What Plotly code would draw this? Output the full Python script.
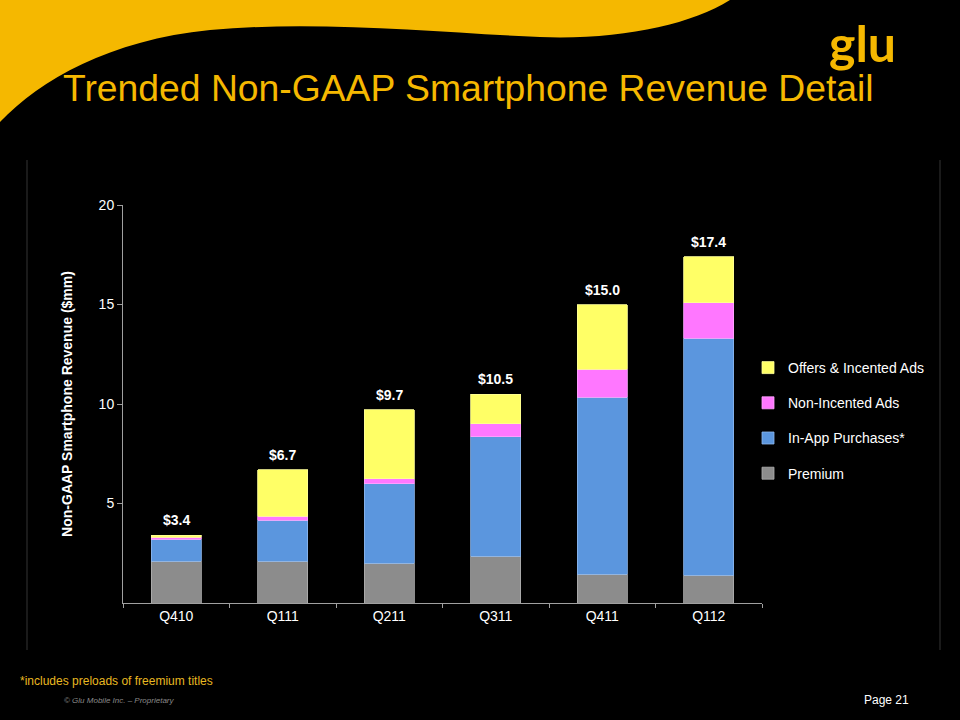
import plotly.graph_objects as go

categories = ["Q410", "Q111", "Q211", "Q311", "Q411", "Q112"]
premium = [2.1, 2.1, 2.0, 2.35, 1.45, 1.4]
in_app = [1.1, 2.05, 4.0, 6.0, 8.9, 11.9]
non_incented = [0.1, 0.2, 0.25, 0.65, 1.4, 1.8]
offers = [0.1, 2.35, 3.45, 1.5, 3.25, 2.3]
totals = [3.4, 6.7, 9.7, 10.5, 15.0, 17.4]
total_labels = ["$3.4", "$6.7", "$9.7", "$10.5", "$15.0", "$17.4"]
y_ticks = [5, 10, 15, 20]

FONT = "Liberation Sans, Arial, sans-serif"
YELLOW = "#F5B800"

# plot area in pixels
L, R, T, B = 123, 762, 205, 603
W, H = 960, 720


def px(x):
    return (x - L) / (R - L)


def py(y):
    return (B - y) / (B - T)


fig = go.Figure()
series = [
    ("Premium", premium, "#8C8C8C", "#B0B0B0", 4),
    ("In-App Purchases*", in_app, "#5B96DE", "#8DB8EE", 3),
    ("Non-Incented Ads", non_incented, "#FF77FF", "#FFA6FF", 2),
    ("Offers & Incented Ads", offers, "#FFFF66", "#FFFF99", 1),
]
for name, vals, col, lc, rank in series:
    fig.add_trace(go.Bar(
        x=categories, y=vals, name=name, legendgroup=name, legendrank=rank,
        marker=dict(color=col, line=dict(color=lc, width=0.8)),
        width=0.47,
    ))

for c, t, lab in zip(categories, totals, total_labels):
    fig.add_annotation(x=c, y=t, text="<b>" + lab + "</b>", showarrow=False,
                       yanchor="bottom", yshift=5,
                       font=dict(family=FONT, size=14, color="white"))


def P(x, y):
    return f"{px(x):.4f},{py(y):.4f}"


# yellow swoosh at top
path = ("M " + P(0, 0) + " L " + P(730, 0) +
        " C " + P(690, 25) + " " + P(620, 40) + " " + P(540, 37) +
        " C " + P(440, 33) + " " + P(320, 20) + " " + P(210, 30) +
        " C " + P(110, 40) + " " + P(40, 80) + " " + P(0, 122) + " Z")
fig.add_shape(type="path", path=path, xref="paper", yref="paper",
              fillcolor=YELLOW, line=dict(width=0), layer="below")

# faint panel edges
for xx in (27, 940):
    fig.add_shape(type="line", xref="paper", yref="paper",
                  x0=px(xx), x1=px(xx), y0=py(160), y1=py(650),
                  line=dict(color="#1A1A1A", width=2), layer="below")

# title and texts
fig.add_annotation(xref="paper", yref="paper", x=px(61), y=py(88),
                   xanchor="left", yanchor="middle", showarrow=False,
                   text="Trended Non-GAAP Smartphone Revenue Detail",
                   font=dict(family=FONT, size=37.3, color=YELLOW))
fig.add_annotation(xref="paper", yref="paper", x=px(862), y=py(43),
                   xanchor="center", yanchor="middle", showarrow=False,
                   text="<b>glu</b>",
                   font=dict(family="Lato, sans-serif", size=50, color=YELLOW))
fig.add_annotation(xref="paper", yref="paper", x=px(18), y=py(681),
                   xanchor="left", yanchor="middle", showarrow=False,
                   text="*includes preloads of freemium titles",
                   font=dict(family=FONT, size=12, color="#E8B820"))
fig.add_annotation(xref="paper", yref="paper", x=px(62), y=py(700),
                   xanchor="left", yanchor="middle", showarrow=False,
                   text="<i>© Glu Mobile Inc. – Proprietary</i>",
                   font=dict(family=FONT, size=8, color="#8A8A8A"))
fig.add_annotation(xref="paper", yref="paper", x=px(862), y=py(700),
                   xanchor="left", yanchor="middle", showarrow=False,
                   text="Page 21",
                   font=dict(family=FONT, size=12, color="white"))

fig.update_layout(
    width=W, height=H,
    margin=dict(l=L, r=W - R, t=T, b=H - B, pad=0, autoexpand=False),
    paper_bgcolor="black", plot_bgcolor="black",
    barmode="stack", bargap=0.53,
    font=dict(family=FONT, size=14, color="white"),
    showlegend=True,
    legend=dict(x=px(748), y=py(352), xanchor="left", yanchor="top",
                traceorder="grouped", tracegroupgap=14,
                font=dict(family=FONT, size=14, color="white"),
                bgcolor="rgba(0,0,0,0)", itemwidth=30),
    xaxis=dict(showline=True, linecolor="#A0A0A0", linewidth=1,
               ticks="outside", tickson="boundaries", ticklen=4,
               tickcolor="#A0A0A0", showgrid=False,
               tickfont=dict(family=FONT, size=14, color="white")),
    yaxis=dict(range=[0, 20], tickvals=y_ticks, showline=True,
               linecolor="#A0A0A0", linewidth=1, ticks="outside", ticklen=5,
               tickcolor="#A0A0A0", showgrid=False, zeroline=False,
               tickfont=dict(family=FONT, size=14, color="white"),
               title=dict(text="<b>Non-GAAP Smartphone Revenue ($mm)</b>",
                          font=dict(family=FONT, size=14, color="white"),
                          standoff=22)),
)

fig.write_html("out.html")
